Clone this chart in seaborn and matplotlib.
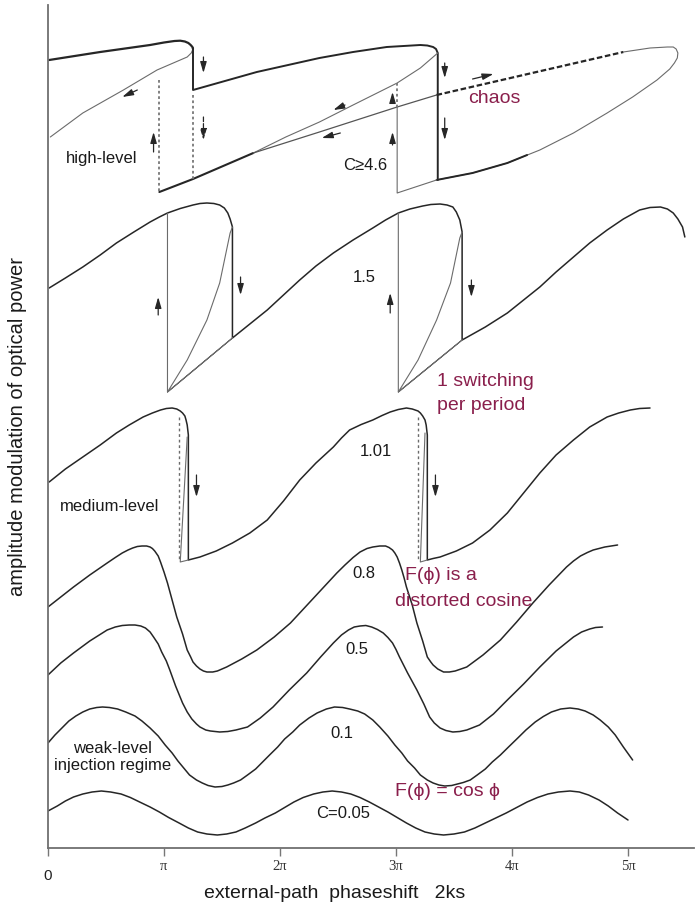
import matplotlib
matplotlib.use("Agg")
import matplotlib.pyplot as plt
import seaborn as sns

sns.set_theme(style="white")
plt.rcParams['font.family'] = ['Liberation Sans', 'DejaVu Sans']

# ---------------- data (x in units of pi, y in arbitrary amplitude units) -------------
# C = 0.05
x_c005 = [0.00, 0.08, 0.15, 0.22, 0.30, 0.38, 0.46, 0.54, 0.63, 0.71, 0.79, 0.88, 0.96, 1.04, 1.13, 1.21,
          1.29, 1.37, 1.46, 1.54, 1.62, 1.70, 1.79, 1.87, 1.96, 2.04, 2.12, 2.20, 2.29, 2.37, 2.45, 2.53,
          2.61, 2.69, 2.77, 2.85, 2.93, 3.01, 3.09, 3.17, 3.25, 3.33, 3.41, 3.50, 3.59, 3.68, 3.77, 3.86,
          3.95, 4.04, 4.13, 4.22, 4.31, 4.40, 4.50, 4.58, 4.66, 4.75, 4.83, 4.91, 5.00]
y_c005 = [37, 42, 47, 51, 54, 56, 57, 56, 54, 50.5, 46, 41, 36, 30.5, 25, 20,
          16, 14, 13, 14, 16, 20, 25, 30, 35, 40.5, 46, 50.5, 54, 56, 57, 56,
          54, 50.5, 46, 41, 36, 30.5, 25, 20, 16, 14, 13, 14, 16, 20, 25, 30,
          35, 40.5, 46, 50.5, 54, 56, 57, 56, 53, 48, 42, 35, 28]
# C = 0.1
x_c01 = [0.00, 0.06, 0.12, 0.18, 0.24, 0.30, 0.36, 0.42, 0.47, 0.53, 0.60, 0.67, 0.75, 0.81, 0.88, 0.95,
         1.01, 1.07, 1.12, 1.17, 1.22, 1.28, 1.33, 1.38, 1.44, 1.50, 1.55, 1.60, 1.66, 1.72, 1.79, 1.85,
         1.91, 1.98, 2.04, 2.11, 2.17, 2.25, 2.32, 2.40, 2.47, 2.54, 2.60, 2.67, 2.73, 2.80, 2.86, 2.93,
         2.99, 3.05, 3.10, 3.16, 3.21, 3.27, 3.32, 3.37, 3.42, 3.48, 3.53, 3.58, 3.64, 3.70, 3.77, 3.83,
         3.90, 3.97, 4.05, 4.12, 4.20, 4.27, 4.34, 4.42, 4.50, 4.57, 4.63, 4.70, 4.76, 4.83, 4.89, 4.96, 5.04]
y_c01 = [105, 113, 120, 127, 132, 136, 139, 140.5, 141, 140.5, 139, 136, 132, 127, 120, 112,
         103, 95, 87, 80, 73, 68, 65, 62.5, 61, 61.5, 63, 65, 68, 73, 79, 86,
         93, 101, 109, 116, 123, 130, 135, 139, 141, 140.5, 139, 137, 134, 128, 121, 112,
         103, 95, 87, 80, 73, 68, 65, 63, 62, 62.5, 64, 65.5, 68, 73, 79, 86,
         93, 101, 110, 118, 126, 131.5, 136, 139, 140, 139, 137, 133, 128, 121, 113, 101, 88]
# C = 0.5
x_c05 = [0.00, 0.11, 0.22, 0.36, 0.51, 0.58, 0.64, 0.70, 0.75, 0.80, 0.84, 0.88, 0.91, 0.95, 0.98, 1.02,
         1.05, 1.10, 1.16, 1.20, 1.24, 1.28, 1.31, 1.36, 1.40, 1.48, 1.55, 1.62, 1.72, 1.83, 1.94, 2.08,
         2.23, 2.35, 2.46, 2.53, 2.59, 2.64, 2.69, 2.74, 2.79, 2.84, 2.89, 2.93, 2.97, 3.00, 3.03, 3.10,
         3.18, 3.24, 3.29, 3.33, 3.38, 3.43, 3.49, 3.55, 3.61, 3.72, 3.84, 3.96, 4.10, 4.24, 4.38, 4.53,
         4.60, 4.67, 4.72, 4.78]
y_c05 = [173, 185, 195, 207, 218, 221, 222.5, 223, 223, 222, 220, 216, 211, 204, 196, 187,
         178, 162, 145, 136, 129, 124, 121, 118, 117, 116, 116.5, 118, 121, 130, 141, 158,
         175, 191, 205, 213, 218, 221, 222, 222.5, 221, 218.5, 215, 210.5, 205, 198.5, 191, 175,
         158, 144, 131, 125, 120, 117.5, 116, 116.5, 118, 123, 134, 148, 164, 181, 197, 211,
         216, 219, 220.5, 221]
# C = 0.8
x_c08 = [0.00, 0.11, 0.22, 0.36, 0.51, 0.58, 0.64, 0.69, 0.73, 0.77, 0.81, 0.85, 0.88, 0.90, 0.92, 0.95,
         0.97, 1.00, 1.03, 1.07, 1.11, 1.16, 1.20, 1.23, 1.25, 1.28, 1.31, 1.34, 1.37, 1.42, 1.46, 1.54,
         1.67, 1.80, 1.95, 2.09, 2.25, 2.41, 2.49, 2.56, 2.63, 2.69, 2.75, 2.80, 2.86, 2.91, 2.94, 2.97,
         2.99, 3.01, 3.03, 3.05, 3.07, 3.09, 3.14, 3.18, 3.23, 3.27, 3.30, 3.32, 3.36, 3.41, 3.46, 3.51,
         3.61, 3.75, 3.90, 4.04, 4.18, 4.32, 4.47, 4.53, 4.59, 4.65, 4.70, 4.80, 4.91]
y_c08 = [241, 251, 261, 273, 285, 290.5, 295, 298, 300, 301.5, 302, 302, 301, 299.5, 297, 292,
         286, 276, 265, 248, 231, 214, 198, 191, 186, 182, 179, 177, 176, 176, 177, 181,
         189, 198, 211, 225, 245, 265, 275, 283, 290.5, 296, 299.5, 301, 302, 302, 300.5, 298,
         295, 291, 285, 278, 270, 261, 243, 225, 207, 191, 186, 183, 179, 176, 176, 177,
         181, 193, 208, 226, 245, 263, 281, 287, 292, 295.5, 298, 301, 303]
# C = 1.01 (medium level)
x_c101 = [0.01, 0.15, 0.30, 0.45, 0.59, 0.70, 0.82, 0.90, 0.97, 1.02, 1.07, 1.11, 1.14, 1.16, 1.18, 1.19,
          1.20, 1.21, 1.21, 1.21, 1.26, 1.31, 1.45, 1.59, 1.74, 1.89, 2.03, 2.17, 2.31, 2.46, 2.53, 2.60,
          2.70, 2.80, 2.88, 2.95, 3.02, 3.09, 3.14, 3.19, 3.21, 3.23, 3.25, 3.26, 3.27, 3.27, 3.27, 3.32,
          3.38, 3.52, 3.66, 3.81, 3.96, 4.10, 4.24, 4.38, 4.53, 4.67, 4.82, 4.92, 5.02, 5.10, 5.19]
y_c101 = [366, 379, 391, 403, 415, 423, 431, 435, 438, 439.5, 440, 439, 437, 435, 432, 428,
          423, 413, 401, 288, 289.5, 291, 297, 305, 315, 328, 347, 368, 385, 401, 410, 418,
          423.5, 428, 432.5, 436, 438.5, 440, 439, 437, 435, 432, 428, 423, 413, 401, 288, 289.5,
          291, 297, 305, 318, 335, 355, 375, 393, 408, 421, 431, 435, 438, 439.5, 440]
x_c101_dot1 = [1.13, 1.13]; y_c101_dot1 = [431, 287]
x_c101_uns1 = [1.21, 1.14, 1.20]; y_c101_uns1 = [288, 286, 411]
x_c101_dot2 = [3.19, 3.19]; y_c101_dot2 = [431, 289]
x_c101_uns2 = [3.27, 3.21, 3.25]; y_c101_uns2 = [288, 286, 415]
# C = 1.5
x_c15 = [0.01, 0.15, 0.30, 0.45, 0.59, 0.74, 0.88, 0.96, 1.03, 1.14, 1.25, 1.31, 1.37, 1.43, 1.48, 1.52,
         1.55, 1.57, 1.59, 1.59, 1.59, 1.74, 1.89, 2.03, 2.17, 2.31, 2.46, 2.63, 2.80, 2.91, 3.02, 3.12,
         3.23, 3.30, 3.38, 3.44, 3.49, 3.52, 3.55, 3.56, 3.57, 3.57, 3.77, 3.96, 4.10, 4.24, 4.38, 4.53,
         4.67, 4.82, 4.96, 5.10, 5.19, 5.28, 5.34, 5.39, 5.43, 5.47, 5.49]
y_c15 = [560, 570, 581, 593, 605, 616, 626, 631, 635, 639.5, 643, 644.5, 645, 644.5, 643, 640,
         635, 629, 621, 615, 510, 524, 538, 553, 568, 582, 595, 608, 620, 628, 635, 639,
         642, 643.5, 644, 643, 641, 636, 628, 622, 616, 508, 521, 535, 548, 561, 576, 591,
         605, 618, 629, 638, 640.5, 641, 639, 635, 629, 621, 611]
x_c15_thin1 = [1.59, 1.57, 1.48, 1.37, 1.20, 1.03, 1.59, 1.03, 1.03]
y_c15_thin1 = [621, 615, 565, 528, 488, 456, 510, 456, 635]
x_c15_thin2 = [3.57, 3.55, 3.47, 3.35, 3.19, 3.02, 3.57, 3.02, 3.02]
y_c15_thin2 = [616, 610, 565, 528, 488, 456, 508, 456, 635]
# C >= 4.6 (high level)
x_hi_up1 = [0.01, 0.45, 0.88, 1.00, 1.09, 1.14, 1.18, 1.21, 1.23, 1.245, 1.25]
y_hi_up1 = [788, 796, 803, 805.5, 807, 807.3, 806.5, 805, 803, 801, 799]
x_hi_uns1 = [1.25, 1.235, 1.20, 1.08, 0.94, 0.65, 0.30, 0.02]
y_hi_uns1 = [799, 795, 791, 785, 778, 758, 735, 711]
x_hi_up2 = [1.25, 1.25, 1.80, 2.34, 2.63, 2.92, 3.21, 3.27, 3.32, 3.345, 3.36, 3.36]
y_hi_up2 = [800, 758, 776, 790, 796, 801, 803, 802.5, 801, 799, 795, 668]
x_hi_low1 = [0.96, 1.25, 1.77]
y_hi_low1 = [656, 669, 695]
x_hi_a = [1.77, 2.05, 2.34, 2.63, 3.01, 3.21, 3.32, 3.36]
y_hi_a = [695, 711, 726, 743, 765, 780, 791, 795]
x_hi_b = [1.77, 2.34, 3.01, 3.35]
y_hi_b = [695, 716, 741, 753]
x_hi_chaos = [3.35, 4.96]
y_hi_chaos = [753, 796]
x_hi_fold = [4.96, 5.19, 5.34, 5.39, 5.415, 5.43, 5.425, 5.40, 5.36, 5.31, 5.25, 5.04, 4.82, 4.53, 4.24,
             3.96, 3.66, 3.35]
y_hi_fold = [796, 800, 801, 801, 799, 795, 790, 785, 779, 774, 768, 751, 735, 715, 698,
             685, 675, 668]
x_hi_low2 = [3.35, 3.66, 3.96, 4.13]
y_hi_low2 = [668, 675, 685, 693]
x_hi_jump3 = [3.01, 3.01, 3.35]
y_hi_jump3 = [741, 655, 668]
x_hi_dots = [[0.96, 0.96], [1.25, 1.25], [3.01, 3.01]]
y_hi_dots = [[768, 656], [753, 668], [765, 741]]

# arrows: (x_tail, y_tail, x_head, y_head, dashed)
arrows = [
    (0.77, 758, 0.64, 751, False), (0.91, 696, 0.91, 716, False), (1.34, 791, 1.34, 775, False),
    (1.34, 731, 1.34, 708, True), (2.56, 743, 2.46, 738, False), (2.52, 715, 2.36, 710, False),
    (2.97, 746, 2.97, 756, False), (2.97, 703, 2.97, 716, False), (3.42, 785, 3.42, 770, False),
    (3.42, 730, 3.42, 708, False), (3.66, 769, 3.84, 774, False),
    (0.95, 533, 0.95, 551, False), (1.66, 571, 1.66, 553, False),
    (2.95, 535, 2.95, 555, False), (3.65, 568, 3.65, 551, False),
    (1.28, 373, 1.28, 351, False), (3.34, 373, 3.34, 351, False),
]

# labels: (text, x, y, colour key, ha)
labels = [
    ("high-level", 0.15, 690, "k", "left"), ("C≥4.6", 2.54, 683, "k", "left"),
    ("chaos", 3.62, 750, "m", "left"), ("1.5", 2.63, 571, "k", "left"),
    ("1 switching", 3.35, 466, "m", "left"), ("per period", 3.35, 443, "m", "left"),
    ("1.01", 2.69, 397, "k", "left"), ("medium-level", 0.10, 342, "k", "left"),
    ("0.8", 2.62, 275, "k", "left"), ("F(ϕ) is a", 3.08, 272, "m", "left"),
    ("distorted cosine", 2.99, 247, "m", "left"), ("0.5", 2.56, 198, "k", "left"),
    ("0.1", 2.43, 115, "k", "left"), ("weak-level\ninjection regime", 0.56, 91, "k", "center"),
    ("F(ϕ) = cos ϕ", 2.99, 57, "m", "left"), ("C=0.05", 2.31, 35, "k", "left"),
]
tick_pos = [0, 1, 2, 3, 4, 5]
tick_lab = ["", "π", "2π", "3π", "4π", "5π"]

# ---------------- drawing ----------------
INK = "#262626"
THIN = "#6b6b6b"
MAROON = "#8a1f4c"

fig = plt.figure(figsize=(6.96, 9.16), dpi=100)
ax = fig.add_axes([48 / 696, 68 / 916, 646 / 696, 843 / 916])


def line(xs, ys, lw=1.1, color=INK, ls="-"):
    sns.lineplot(x=xs, y=ys, sort=False, estimator=None, ax=ax, color=color,
                 lw=lw, ls=ls, legend=False, solid_joinstyle="round", solid_capstyle="round")


for xs, ys in [(x_c005, y_c005), (x_c01, y_c01), (x_c05, y_c05), (x_c08, y_c08),
               (x_c101, y_c101), (x_c15, y_c15)]:
    line(xs, ys, lw=1.1)

line(x_c101_dot1, y_c101_dot1, lw=1.0, color=THIN, ls=(0, (2, 2)))
line(x_c101_dot2, y_c101_dot2, lw=1.0, color=THIN, ls=(0, (2, 2)))
line(x_c101_uns1, y_c101_uns1, lw=0.8, color=THIN)
line(x_c101_uns2, y_c101_uns2, lw=0.8, color=THIN)
line(x_c15_thin1, y_c15_thin1, lw=0.8, color=THIN)
line(x_c15_thin2, y_c15_thin2, lw=0.8, color=THIN)

line(x_hi_up1, y_hi_up1, lw=1.6)
line(x_hi_uns1, y_hi_uns1, lw=0.8, color=THIN)
line(x_hi_up2, y_hi_up2, lw=1.4)
line(x_hi_low1, y_hi_low1, lw=1.5)
line(x_hi_a, y_hi_a, lw=0.8, color=THIN)
line(x_hi_b, y_hi_b, lw=0.9, color="#555555")
line(x_hi_chaos, y_hi_chaos, lw=1.6, ls=(0, (2.5, 1.2)))
line(x_hi_fold, y_hi_fold, lw=0.8, color=THIN)
line(x_hi_low2, y_hi_low2, lw=1.4)
line(x_hi_jump3, y_hi_jump3, lw=0.8, color=THIN)
for xs, ys in zip(x_hi_dots, y_hi_dots):
    line(xs, ys, lw=1.3, color="#777777", ls=(0, (1.5, 1.5)))

for x0, y0, x1, y1, dashed in arrows:
    ax.annotate("", xy=(x1, y1), xytext=(x0, y0),
                arrowprops=dict(arrowstyle="-|>,head_length=0.55,head_width=0.16",
                                color=INK, lw=0.9, ls="--" if dashed else "-",
                                shrinkA=0, shrinkB=0))

for txt, x, y, c, ha in labels:
    ax.text(x, y, txt, ha=ha, va="center", color=MAROON if c == "m" else "#1a1a1a",
            fontsize=14 if c == "m" else 12, linespacing=1.15)

ax.set_xlim(0, 646 / 116)
ax.set_ylim(0, 843)
ax.set_yticks([])
ax.set_xticks(tick_pos)
ax.set_xticklabels(tick_lab, family=["Liberation Serif", "DejaVu Serif"], fontsize=10.5, color="#333333")
ax.tick_params(axis="x", bottom=True, direction="out", length=6, width=1, color="#777777", pad=3)
ax.text(0, -28, "0", ha="center", va="center", fontsize=11, color="#222222", clip_on=False)

for s in ["top", "right"]:
    ax.spines[s].set_visible(False)
for s in ["left", "bottom"]:
    ax.spines[s].set_color("#707070")
    ax.spines[s].set_linewidth(1.3)

ax.set_xlabel("external-path  phaseshift   2ks", fontsize=14, color="#1a1a1a")
ax.xaxis.set_label_coords(287 / 646, -45 / 843)
ax.xaxis.label.set_va("center")
ax.set_ylabel("amplitude modulation of optical power", fontsize=14.5, color="#1a1a1a")
ax.yaxis.set_label_coords(-30 / 646, 0.5)
ax.yaxis.label.set_va("center")

fig.savefig("out.png", dpi=100)
